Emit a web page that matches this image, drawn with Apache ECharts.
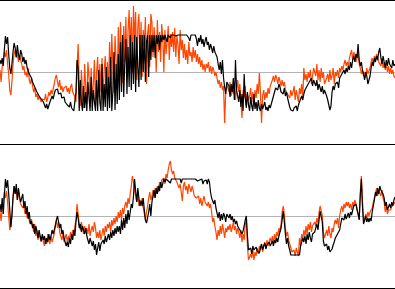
<!DOCTYPE html>
<html>
<head>
<meta charset="utf-8">
<script src="https://cdn.jsdelivr.net/npm/echarts@6/dist/echarts.min.js"></script>
<style>
html,body{margin:0;padding:0;background:#fff;}
#chart{width:395px;height:289px;}
</style>
</head>
<body>
<div id="chart"></div>
<script>
// Daily index (one value per day, 365 days)
const days = Array.from({length: 365}, (_, i) => i + 1);

// Upper panel
const topBlack = [
12,8,14,6,22,36,28,35,18,4,
-2,8,20,29,24,15,27,18,12,22,
18,10,15,8,12,4,6,-2,0,-6,
-10,-8,-15,-14,-20,-18,-24,-22,-27,-25,
-30,-33,-36,-32,-37,-35,-30,-28,-24,-27,
-22,-18,-20,-17,-22,-24,-21,-26,-28,-25,
-30,-28,-33,-31,-35,-30,-36,-38,-39,-37,
-20,12,4,-39,-8,-30,-39,-14,-36,-20,
-39,-10,-25,-39,-5,-39,-18,-30,-39,-8,
-39,2,-30,-39,8,-39,-12,-35,5,-39,
-5,-36,15,-39,-20,20,-38,8,-32,18,
-28,30,-20,37,-25,10,33,-22,25,-15,
37,-18,30,-12,37,-20,35,5,-15,37,
-8,37,0,37,-10,30,37,-5,37,12,
37,20,37,14,37,28,37,22,37,30,
37,32,37,35,30,37,37,34,37,36,
37,37,36,37,37,37,37,37,37,37,
37,37,37,37,34,31,37,37,37,35,
37,33,26,34,30,37,28,33,25,31,
35,27,30,22,28,24,19,26,20,18,
15,8,2,10,-2,12,-6,-15,-22,-10,
-8,-14,-25,-12,-20,-6,-28,12,-18,-24,
-30,-18,-35,-22,-39,-2,-26,-36,-20,-33,
-39,-25,-34,-39,-22,-37,-30,-39,-28,-36,
-39,-32,-37,-39,-30,-38,-35,-39,-33,-36,
-32,-28,-24,-20,-16,-14,-18,-12,-15,-20,
-18,-22,-16,-24,-20,-26,-28,-35,-38,-39,
-39,-36,-38,-34,-39,-33,-30,-27,-24,-28,
-22,-18,-20,-14,-16,-10,-12,-6,-14,-8,
-10,-14,-8,-18,-12,-16,-20,-14,-22,-18,
-20,-24,-28,-30,-38,-34,-20,-14,-18,-12,
-14,-10,-16,-6,-8,-2,-4,2,-2,4,
0,6,2,10,4,12,16,10,18,14,
28,12,6,10,2,-2,-8,0,-4,-12,
-13,-4,4,10,6,14,10,16,12,20,
24,14,8,16,10,4,12,6,14,8,
10,4,12,6,8
];
const topOrange = [
2,-10,5,12,20,15,22,8,-2,-18,
-23,-10,8,18,22,14,20,10,16,12,
8,2,6,-3,0,-5,4,-8,-12,-6,
-14,-20,-16,-25,-22,-28,-24,-26,-30,-27,
-25,-28,-22,-30,-26,-20,-24,-18,-22,-20,
-12,-6,-3,-10,-15,-8,-18,-14,-20,-16,
-18,-14,-20,-16,-22,-15,-12,-20,-18,-25,
-30,5,28,-10,-34,2,-20,-36,8,-15,
-32,10,-5,-35,4,-28,-12,12,-34,0,
15,-25,8,-20,14,-28,2,16,-22,10,
-18,30,-10,38,5,-21,36,12,-15,45,
-8,50,20,-11,46,10,55,-5,40,62,
20,55,0,66,30,60,-8,45,58,10,
50,-5,42,25,55,-12,38,48,5,58,
50,15,45,30,0,52,20,40,10,48,
35,0,42,18,30,46,12,38,25,40,
20,44,15,36,28,8,42,22,32,14,
28,12,22,8,30,16,20,10,25,14,
22,10,18,8,15,5,12,2,8,0,
8,4,10,0,6,-2,5,2,-4,0,
-6,-12,-8,-16,-10,-18,-14,-51,-20,-12,
-14,-20,-10,-24,-16,-22,-12,-28,-18,-8,
-20,-12,-30,-46,-18,-26,-14,-34,-22,-28,
-24,-16,-30,-20,-34,-18,-26,-12,-22,-1,
-20,-51,-24,-18,-28,-20,-26,-16,-22,-14,
-12,-8,-4,-10,-3,-6,-12,-5,-9,-14,
-8,-14,-10,-18,-16,-22,-20,-26,-18,-24,
-20,-14,-28,-18,-24,-30,-16,-22,-12,-26,
4,-8,-2,-10,0,-6,2,-12,-4,4,
6,-4,8,-8,2,-10,4,-6,0,-12,
-14,-6,-2,-10,2,-8,-4,4,-12,0,
-4,2,-6,4,0,6,2,8,12,6,
10,6,14,18,22,12,20,16,10,14,
18,8,4,-2,2,-4,0,-6,4,-2,
-2,4,10,14,8,16,12,18,14,10,
12,6,14,4,10,2,8,0,6,-2,
4,-2,2,-4,-6
];

// Lower panel
const bottomBlack = [
12,4,18,2,20,37,28,36,22,6,
-11,0,18,30,22,32,16,28,20,14,
18,22,8,15,2,10,-3,4,-8,-5,
-12,-8,-18,-10,-15,-22,-14,-20,-25,-18,
-24,-20,-28,-22,-26,-18,-24,-20,-14,-18,
-16,-10,-4,0,-6,-12,-8,-18,-14,-22,
-24,-30,-26,-31,-22,-28,-18,-24,-14,-20,
-6,4,-2,-12,-8,-16,-10,-14,-18,-12,
-20,-24,-28,-22,-26,-30,-25,-34,-28,-39,
-32,-26,-35,-28,-30,-24,-28,-20,-26,-22,
-18,-24,-16,-22,-14,-20,-12,-18,-10,-16,
-10,-18,-4,-14,-2,-12,2,-8,6,-4,
4,12,8,20,37,25,14,28,18,10,
15,10,18,6,-4,-7,-2,4,12,0,
14,20,26,18,28,22,30,25,34,28,
30,37,34,37,37,35,37,33,37,37,
37,37,37,37,37,37,37,33,37,37,
37,37,37,37,37,37,37,37,37,37,
37,37,35,37,36,34,37,32,35,33,
36,32,37,34,24,18,20,12,16,8,
6,-2,4,-5,2,-4,3,0,-6,2,
4,-2,2,-4,0,-6,-3,-8,-5,-10,
-8,-14,-12,-18,-15,-10,-4,0,-20,-34,
-36,-32,-38,-30,-34,-36,-31,-35,-33,-37,
-32,-28,-34,-30,-27,-33,-29,-31,-26,-30,
-28,-25,-30,-24,-27,-22,-26,-20,-18,-12,
-4,5,-6,-18,-28,-22,-30,-34,-39,-39,
-39,-39,-39,-39,-39,-39,-39,-30,-26,-22,
-26,-20,-28,-18,-24,-16,-22,-26,-18,-20,
-16,-12,-8,-14,-4,5,7,-6,-25,-30,
-32,-28,-34,-30,-36,-38,-33,-29,-26,-22,
-24,-18,-20,-14,-8,-2,0,-4,2,-3,
0,3,-2,4,1,6,10,8,12,6,
2,-4,20,37,10,-8,-4,0,-6,-2,
-6,-2,-5,4,10,16,24,20,28,22,
30,26,28,22,18,10,14,6,8,12,
8,14,10,16,19
];
const bottomOrange = [
4,-5,8,15,24,18,25,14,0,-14,
-10,2,20,30,22,26,16,24,18,12,
14,8,12,2,6,-2,4,-5,-8,-3,
-10,-16,-8,-20,-14,-24,-18,-22,-26,-20,
-26,-30,-22,-28,-18,-24,-28,-20,-26,-22,
-18,-8,-4,-12,-6,-16,-20,-24,-18,-26,
-22,-18,-26,-20,-24,-16,-22,-14,-18,-10,
-4,12,2,-8,-14,-6,-12,-18,-10,-16,
-12,-18,-8,-20,-14,-10,-16,-6,-12,-22,
-16,-22,-14,-24,-18,-12,-20,-10,-16,-8,
-12,-6,-16,-4,-10,-2,-8,0,-6,4,
-2,6,-4,8,2,10,14,8,18,12,
22,30,40,34,26,20,14,22,10,16,
12,18,8,2,-4,4,10,18,24,16,
20,26,18,28,22,30,24,34,28,36,
34,38,32,42,38,46,52,55,46,42,
45,38,40,34,36,28,32,24,15,30,
34,26,30,22,32,28,24,30,26,20,
22,18,16,20,12,18,10,15,20,14,
16,10,14,8,12,4,-6,-2,-10,-16,
-24,-14,-20,-10,-18,-8,-14,-22,-12,-16,
-10,-14,-8,-16,-12,-6,-14,-10,-18,-12,
-16,-22,-14,-26,-18,-24,-8,-4,-30,-44,
-46,-38,-42,-34,-44,-36,-40,-32,-38,-30,
-34,-28,-36,-30,-26,-32,-24,-30,-28,-22,
-26,-20,-28,-18,-24,-16,-20,-12,-16,-8,
4,10,2,-12,-20,-16,-24,-28,-32,-36,
-38,-34,-40,-32,-36,-40,-22,-30,-18,-24,
-14,-20,-10,-18,-8,-14,-6,-16,-10,-12,
-6,-10,-2,-8,4,10,12,0,-16,-22,
-24,-14,-20,-10,-18,-22,-12,-16,-8,-4,
-8,-2,-12,0,6,10,4,12,8,14,
10,14,8,12,6,14,10,16,12,8,
2,-3,24,40,16,-2,-6,2,-2,4,
0,4,2,8,14,18,22,28,20,26,
24,20,26,18,14,4,10,2,6,4,
6,10,8,12,14
];

const BLACK = '#000000';
const ORANGE = '#ff4500';
const GREY = '#b4b4b4';

const chart = echarts.init(document.getElementById('chart'), null, {renderer: 'canvas'});

function xAx(grid, pos) {
  return {
    type: 'category', gridIndex: grid, position: pos, data: days, boundaryGap: false,
    axisLine: {show: true, onZero: false, lineStyle: {color: BLACK, width: 1}},
    axisTick: {show: false}, axisLabel: {show: false}, splitLine: {show: false}
  };
}
function yAx(grid) {
  return {
    type: 'value', gridIndex: grid, min: -72, max: 72, interval: 72,
    axisLine: {show: false}, axisTick: {show: false}, axisLabel: {show: false},
    splitLine: {show: true, showMinLine: false, showMaxLine: false, lineStyle: {color: GREY, width: 1}}
  };
}
function line(data, color, xi, yi, z) {
  return {
    type: 'line', data: data, xAxisIndex: xi, yAxisIndex: yi,
    showSymbol: false, symbol: 'none', z: z, silent: true,
    lineStyle: {color: color, width: 1.2}, itemStyle: {color: color}
  };
}

chart.setOption({
  animation: false,
  backgroundColor: '#ffffff',
  grid: [
    {left: 0, right: 0, top: 0, height: 144},
    {left: 0, right: 0, top: 144, height: 144}
  ],
  xAxis: [xAx(0, 'bottom'), xAx(0, 'top'), xAx(1, 'bottom'), xAx(1, 'top')],
  yAxis: [yAx(0), yAx(1)],
  series: [
    line(topOrange, ORANGE, 0, 0, 2),
    line(topBlack, BLACK, 0, 0, 3),
    line(bottomOrange, ORANGE, 2, 1, 2),
    line(bottomBlack, BLACK, 2, 1, 3)
  ]
});
</script>
</body>
</html>
